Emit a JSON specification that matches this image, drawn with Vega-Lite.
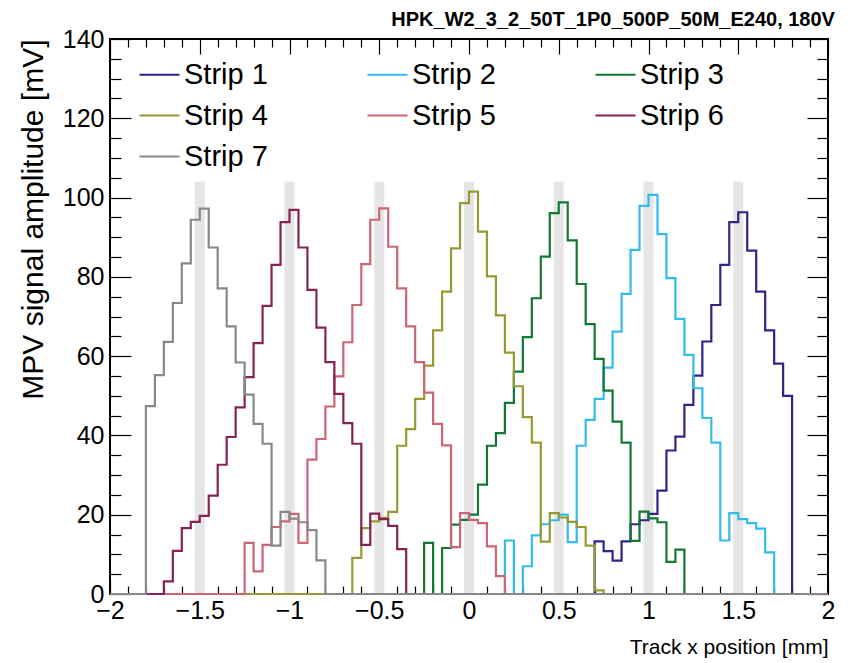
{
  "$schema": "https://vega.github.io/schema/vega-lite/v6.json",
  "width": 718,
  "height": 555,
  "autosize": {"type": "none"},
  "padding": {"left": 110, "top": 39, "right": 23, "bottom": 69},
  "background": "white",
  "config": {
    "view": {"stroke": "black", "strokeWidth": 2},
    "font": "Liberation Sans",
    "axis": {"domain": false, "grid": false, "tickColor": "black", "labelColor": "black", "titleColor": "black", "tickWidth": 1.2, "titleFontWeight": "normal", "labelFont": "Liberation Sans", "titleFont": "Liberation Sans"}
  },
  "title": {"text": "HPK_W2_3_2_50T_1P0_500P_50M_E240, 180V", "anchor": "end", "font": "Liberation Sans", "fontWeight": "bold", "fontSize": 20, "offset": -3, "color": "black"},
  "datasets": {
    "bands": [
      {"c": -1.5, "lo": -1.528, "hi": -1.472, "y0": 0, "y1": 104},
      {"c": -1.0, "lo": -1.028, "hi": -0.972, "y0": 0, "y1": 104},
      {"c": -0.5, "lo": -0.528, "hi": -0.472, "y0": 0, "y1": 104},
      {"c": 0.0, "lo": -0.028, "hi": 0.028, "y0": 0, "y1": 104},
      {"c": 0.5, "lo": 0.472, "hi": 0.528, "y0": 0, "y1": 104},
      {"c": 1.0, "lo": 0.972, "hi": 1.028, "y0": 0, "y1": 104},
      {"c": 1.5, "lo": 1.472, "hi": 1.528, "y0": 0, "y1": 104}
    ],
    "hist": [
      {"s": "Strip 1", "x": -2, "v": 0},
      {"s": "Strip 1", "x": 0.7, "v": 13.3},
      {"s": "Strip 1", "x": 0.75, "v": 10.8},
      {"s": "Strip 1", "x": 0.8, "v": 8.4},
      {"s": "Strip 1", "x": 0.85, "v": 13.3},
      {"s": "Strip 1", "x": 0.9, "v": 17.6},
      {"s": "Strip 1", "x": 0.95, "v": 18.6},
      {"s": "Strip 1", "x": 1.0, "v": 20.2},
      {"s": "Strip 1", "x": 1.05, "v": 26.1},
      {"s": "Strip 1", "x": 1.1, "v": 36.2},
      {"s": "Strip 1", "x": 1.15, "v": 39.7},
      {"s": "Strip 1", "x": 1.2, "v": 47.7},
      {"s": "Strip 1", "x": 1.25, "v": 55.1},
      {"s": "Strip 1", "x": 1.3, "v": 63.7},
      {"s": "Strip 1", "x": 1.35, "v": 72.9},
      {"s": "Strip 1", "x": 1.4, "v": 83.0},
      {"s": "Strip 1", "x": 1.45, "v": 93.8},
      {"s": "Strip 1", "x": 1.5, "v": 96.3},
      {"s": "Strip 1", "x": 1.55, "v": 86.6},
      {"s": "Strip 1", "x": 1.6, "v": 76.3},
      {"s": "Strip 1", "x": 1.65, "v": 66.5},
      {"s": "Strip 1", "x": 1.7, "v": 58.1},
      {"s": "Strip 1", "x": 1.75, "v": 50.0},
      {"s": "Strip 1", "x": 1.8, "v": 0},
      {"s": "Strip 1", "x": 2, "v": 0},

      {"s": "Strip 2", "x": -2, "v": 0},
      {"s": "Strip 2", "x": 0.2, "v": 13.5},
      {"s": "Strip 2", "x": 0.25, "v": 0},
      {"s": "Strip 2", "x": 0.3, "v": 7.0},
      {"s": "Strip 2", "x": 0.35, "v": 14.8},
      {"s": "Strip 2", "x": 0.4, "v": 17.6},
      {"s": "Strip 2", "x": 0.45, "v": 18.6},
      {"s": "Strip 2", "x": 0.5, "v": 20.0},
      {"s": "Strip 2", "x": 0.55, "v": 13.1},
      {"s": "Strip 2", "x": 0.6, "v": 37.4},
      {"s": "Strip 2", "x": 0.65, "v": 43.9},
      {"s": "Strip 2", "x": 0.7, "v": 49.2},
      {"s": "Strip 2", "x": 0.75, "v": 57.1},
      {"s": "Strip 2", "x": 0.8, "v": 66.2},
      {"s": "Strip 2", "x": 0.85, "v": 75.7},
      {"s": "Strip 2", "x": 0.9, "v": 86.8},
      {"s": "Strip 2", "x": 0.95, "v": 97.9},
      {"s": "Strip 2", "x": 1.0, "v": 100.7},
      {"s": "Strip 2", "x": 1.05, "v": 90.8},
      {"s": "Strip 2", "x": 1.1, "v": 79.7},
      {"s": "Strip 2", "x": 1.15, "v": 69.4},
      {"s": "Strip 2", "x": 1.2, "v": 60.3},
      {"s": "Strip 2", "x": 1.25, "v": 51.9},
      {"s": "Strip 2", "x": 1.3, "v": 44.4},
      {"s": "Strip 2", "x": 1.35, "v": 38.2},
      {"s": "Strip 2", "x": 1.4, "v": 13.5},
      {"s": "Strip 2", "x": 1.45, "v": 20.4},
      {"s": "Strip 2", "x": 1.5, "v": 18.9},
      {"s": "Strip 2", "x": 1.55, "v": 17.9},
      {"s": "Strip 2", "x": 1.6, "v": 16.5},
      {"s": "Strip 2", "x": 1.65, "v": 10.5},
      {"s": "Strip 2", "x": 1.7, "v": 0},
      {"s": "Strip 2", "x": 2, "v": 0},

      {"s": "Strip 3", "x": -2, "v": 0},
      {"s": "Strip 3", "x": -0.25, "v": 12.9},
      {"s": "Strip 3", "x": -0.2, "v": 0},
      {"s": "Strip 3", "x": -0.15, "v": 11.6},
      {"s": "Strip 3", "x": -0.1, "v": 17.5},
      {"s": "Strip 3", "x": -0.05, "v": 18.7},
      {"s": "Strip 3", "x": 0.0, "v": 20.0},
      {"s": "Strip 3", "x": 0.05, "v": 27.6},
      {"s": "Strip 3", "x": 0.1, "v": 37.4},
      {"s": "Strip 3", "x": 0.15, "v": 40.6},
      {"s": "Strip 3", "x": 0.2, "v": 48.2},
      {"s": "Strip 3", "x": 0.25, "v": 56.1},
      {"s": "Strip 3", "x": 0.3, "v": 64.8},
      {"s": "Strip 3", "x": 0.35, "v": 74.6},
      {"s": "Strip 3", "x": 0.4, "v": 85.1},
      {"s": "Strip 3", "x": 0.45, "v": 96.1},
      {"s": "Strip 3", "x": 0.5, "v": 98.8},
      {"s": "Strip 3", "x": 0.55, "v": 89.2},
      {"s": "Strip 3", "x": 0.6, "v": 78.2},
      {"s": "Strip 3", "x": 0.65, "v": 68.1},
      {"s": "Strip 3", "x": 0.7, "v": 59.3},
      {"s": "Strip 3", "x": 0.75, "v": 51.3},
      {"s": "Strip 3", "x": 0.8, "v": 43.5},
      {"s": "Strip 3", "x": 0.85, "v": 38.2},
      {"s": "Strip 3", "x": 0.9, "v": 13.4},
      {"s": "Strip 3", "x": 0.95, "v": 20.8},
      {"s": "Strip 3", "x": 1.0, "v": 19.1},
      {"s": "Strip 3", "x": 1.05, "v": 18.1},
      {"s": "Strip 3", "x": 1.1, "v": 8.1},
      {"s": "Strip 3", "x": 1.15, "v": 11.2},
      {"s": "Strip 3", "x": 1.2, "v": 0},
      {"s": "Strip 3", "x": 2, "v": 0},

      {"s": "Strip 4", "x": -2, "v": 0},
      {"s": "Strip 4", "x": -0.65, "v": 9.1},
      {"s": "Strip 4", "x": -0.6, "v": 16.6},
      {"s": "Strip 4", "x": -0.55, "v": 18.3},
      {"s": "Strip 4", "x": -0.5, "v": 19.2},
      {"s": "Strip 4", "x": -0.45, "v": 20.7},
      {"s": "Strip 4", "x": -0.4, "v": 37.4},
      {"s": "Strip 4", "x": -0.35, "v": 41.6},
      {"s": "Strip 4", "x": -0.3, "v": 49.2},
      {"s": "Strip 4", "x": -0.25, "v": 57.6},
      {"s": "Strip 4", "x": -0.2, "v": 66.5},
      {"s": "Strip 4", "x": -0.15, "v": 76.3},
      {"s": "Strip 4", "x": -0.1, "v": 87.2},
      {"s": "Strip 4", "x": -0.05, "v": 98.6},
      {"s": "Strip 4", "x": 0.0, "v": 101.5},
      {"s": "Strip 4", "x": 0.05, "v": 91.4},
      {"s": "Strip 4", "x": 0.1, "v": 80.1},
      {"s": "Strip 4", "x": 0.15, "v": 70.3},
      {"s": "Strip 4", "x": 0.2, "v": 60.9},
      {"s": "Strip 4", "x": 0.25, "v": 52.4},
      {"s": "Strip 4", "x": 0.3, "v": 44.6},
      {"s": "Strip 4", "x": 0.35, "v": 38.2},
      {"s": "Strip 4", "x": 0.4, "v": 13.2},
      {"s": "Strip 4", "x": 0.45, "v": 20.4},
      {"s": "Strip 4", "x": 0.5, "v": 19.3},
      {"s": "Strip 4", "x": 0.55, "v": 18.2},
      {"s": "Strip 4", "x": 0.6, "v": 16.9},
      {"s": "Strip 4", "x": 0.65, "v": 12.2},
      {"s": "Strip 4", "x": 0.7, "v": 0.9},
      {"s": "Strip 4", "x": 0.75, "v": 0},
      {"s": "Strip 4", "x": 2, "v": 0},

      {"s": "Strip 5", "x": -2, "v": 0},
      {"s": "Strip 5", "x": -1.25, "v": 12.9},
      {"s": "Strip 5", "x": -1.2, "v": 5.7},
      {"s": "Strip 5", "x": -1.15, "v": 12.4},
      {"s": "Strip 5", "x": -1.1, "v": 16.9},
      {"s": "Strip 5", "x": -1.05, "v": 18.3},
      {"s": "Strip 5", "x": -1.0, "v": 20.2},
      {"s": "Strip 5", "x": -0.95, "v": 12.9},
      {"s": "Strip 5", "x": -0.9, "v": 33.9},
      {"s": "Strip 5", "x": -0.85, "v": 39.1},
      {"s": "Strip 5", "x": -0.8, "v": 47.3},
      {"s": "Strip 5", "x": -0.75, "v": 54.9},
      {"s": "Strip 5", "x": -0.7, "v": 63.5},
      {"s": "Strip 5", "x": -0.65, "v": 72.9},
      {"s": "Strip 5", "x": -0.6, "v": 83.2},
      {"s": "Strip 5", "x": -0.55, "v": 94.4},
      {"s": "Strip 5", "x": -0.5, "v": 97.3},
      {"s": "Strip 5", "x": -0.45, "v": 87.6},
      {"s": "Strip 5", "x": -0.4, "v": 77.1},
      {"s": "Strip 5", "x": -0.35, "v": 67.5},
      {"s": "Strip 5", "x": -0.3, "v": 58.5},
      {"s": "Strip 5", "x": -0.25, "v": 50.8},
      {"s": "Strip 5", "x": -0.2, "v": 42.9},
      {"s": "Strip 5", "x": -0.15, "v": 37.5},
      {"s": "Strip 5", "x": -0.1, "v": 11.8},
      {"s": "Strip 5", "x": -0.05, "v": 20.4},
      {"s": "Strip 5", "x": 0.0, "v": 18.7},
      {"s": "Strip 5", "x": 0.05, "v": 17.9},
      {"s": "Strip 5", "x": 0.1, "v": 12.0},
      {"s": "Strip 5", "x": 0.15, "v": 4.5},
      {"s": "Strip 5", "x": 0.2, "v": 0},
      {"s": "Strip 5", "x": 2, "v": 0},

      {"s": "Strip 6", "x": -2, "v": 0},
      {"s": "Strip 6", "x": -1.7, "v": 3.2},
      {"s": "Strip 6", "x": -1.65, "v": 10.9},
      {"s": "Strip 6", "x": -1.6, "v": 16.6},
      {"s": "Strip 6", "x": -1.55, "v": 18.2},
      {"s": "Strip 6", "x": -1.5, "v": 19.7},
      {"s": "Strip 6", "x": -1.45, "v": 24.8},
      {"s": "Strip 6", "x": -1.4, "v": 32.6},
      {"s": "Strip 6", "x": -1.35, "v": 39.6},
      {"s": "Strip 6", "x": -1.3, "v": 47.1},
      {"s": "Strip 6", "x": -1.25, "v": 54.7},
      {"s": "Strip 6", "x": -1.2, "v": 63.3},
      {"s": "Strip 6", "x": -1.15, "v": 72.7},
      {"s": "Strip 6", "x": -1.1, "v": 83.0},
      {"s": "Strip 6", "x": -1.05, "v": 93.8},
      {"s": "Strip 6", "x": -1.0, "v": 96.9},
      {"s": "Strip 6", "x": -0.95, "v": 87.4},
      {"s": "Strip 6", "x": -0.9, "v": 76.7},
      {"s": "Strip 6", "x": -0.85, "v": 67.2},
      {"s": "Strip 6", "x": -0.8, "v": 58.5},
      {"s": "Strip 6", "x": -0.75, "v": 50.5},
      {"s": "Strip 6", "x": -0.7, "v": 43.1},
      {"s": "Strip 6", "x": -0.65, "v": 37.9},
      {"s": "Strip 6", "x": -0.6, "v": 12.4},
      {"s": "Strip 6", "x": -0.55, "v": 20.3},
      {"s": "Strip 6", "x": -0.5, "v": 18.9},
      {"s": "Strip 6", "x": -0.45, "v": 17.2},
      {"s": "Strip 6", "x": -0.4, "v": 11.3},
      {"s": "Strip 6", "x": -0.35, "v": 0},
      {"s": "Strip 6", "x": 2, "v": 0},

      {"s": "Strip 7", "x": -2, "v": 0},
      {"s": "Strip 7", "x": -1.8, "v": 47.4},
      {"s": "Strip 7", "x": -1.75, "v": 55.2},
      {"s": "Strip 7", "x": -1.7, "v": 63.6},
      {"s": "Strip 7", "x": -1.65, "v": 73.4},
      {"s": "Strip 7", "x": -1.6, "v": 83.4},
      {"s": "Strip 7", "x": -1.55, "v": 94.4},
      {"s": "Strip 7", "x": -1.5, "v": 97.2},
      {"s": "Strip 7", "x": -1.45, "v": 87.4},
      {"s": "Strip 7", "x": -1.4, "v": 77.1},
      {"s": "Strip 7", "x": -1.35, "v": 67.5},
      {"s": "Strip 7", "x": -1.3, "v": 58.4},
      {"s": "Strip 7", "x": -1.25, "v": 50.3},
      {"s": "Strip 7", "x": -1.2, "v": 42.9},
      {"s": "Strip 7", "x": -1.15, "v": 37.9},
      {"s": "Strip 7", "x": -1.1, "v": 12.2},
      {"s": "Strip 7", "x": -1.05, "v": 20.7},
      {"s": "Strip 7", "x": -1.0, "v": 19.0},
      {"s": "Strip 7", "x": -0.95, "v": 18.1},
      {"s": "Strip 7", "x": -0.9, "v": 16.1},
      {"s": "Strip 7", "x": -0.85, "v": 8.5},
      {"s": "Strip 7", "x": -0.8, "v": 0},
      {"s": "Strip 7", "x": 2, "v": 0}
    ]
  },
  "layer": [
    {
      "data": {"name": "bands"},
      "mark": {"type": "rect", "color": "#e5e5e5"},
      "encoding": {
        "x": {"field": "lo", "type": "quantitative", "scale": {"domain": [-2, 2], "nice": false, "zero": false},
          "axis": {"orient": "top", "labels": false, "title": null,
            "values": [-2,-1.9,-1.8,-1.7,-1.6,-1.5,-1.4,-1.3,-1.2,-1.1,-1,-0.9,-0.8,-0.7,-0.6,-0.5,-0.4,-0.3,-0.2,-0.1,0,0.1,0.2,0.3,0.4,0.5,0.6,0.7,0.8,0.9,1,1.1,1.2,1.3,1.4,1.5,1.6,1.7,1.8,1.9,2],
            "tickSize": {"condition": {"test": "abs(datum.value*2 - round(datum.value*2)) < 0.001", "value": -15}, "value": -8}}},
        "x2": {"field": "hi"},
        "y": {"field": "y0", "type": "quantitative", "scale": {"domain": [0, 140], "nice": false},
          "axis": {"orient": "right", "labels": false, "title": null,
            "values": [0,5,10,15,20,25,30,35,40,45,50,55,60,65,70,75,80,85,90,95,100,105,110,115,120,125,130,135,140],
            "tickSize": {"condition": {"test": "datum.value % 20 === 0", "value": -21}, "value": -11}}},
        "y2": {"field": "y1"}
      }
    },
    {
      "data": {"name": "hist"},
      "mark": {"type": "line", "interpolate": "step-after", "strokeWidth": 2.2},
      "encoding": {
        "x": {"field": "x", "type": "quantitative", "scale": {"domain": [-2, 2], "nice": false, "zero": false},
          "axis": {"orient": "bottom", "title": "Track x position [mm]",
            "values": [-2,-1.9,-1.8,-1.7,-1.6,-1.5,-1.4,-1.3,-1.2,-1.1,-1,-0.9,-0.8,-0.7,-0.6,-0.5,-0.4,-0.3,-0.2,-0.1,0,0.1,0.2,0.3,0.4,0.5,0.6,0.7,0.8,0.9,1,1.1,1.2,1.3,1.4,1.5,1.6,1.7,1.8,1.9,2],
            "labelExpr": "abs(datum.value*2 - round(datum.value*2)) < 0.001 ? datum.label : ''",
            "format": "~g",
            "tickSize": {"condition": {"test": "abs(datum.value*2 - round(datum.value*2)) < 0.001", "value": -15}, "value": -8},
            "labelFontSize": 25, "labelPadding": 19, "labelFlush": false, "labelOverlap": false,
            "titleFontSize": 21, "titleAnchor": "end", "titlePadding": 6}},
        "y": {"field": "v", "type": "quantitative", "scale": {"domain": [0, 140], "nice": false},
          "axis": {"orient": "left", "title": "MPV signal amplitude [mV]",
            "values": [0,5,10,15,20,25,30,35,40,45,50,55,60,65,70,75,80,85,90,95,100,105,110,115,120,125,130,135,140],
            "labelExpr": "datum.value % 20 === 0 ? datum.label : ''",
            "tickSize": {"condition": {"test": "datum.value % 20 === 0", "value": -21}, "value": -11},
            "labelFontSize": 25, "labelPadding": 27, "labelFlush": false, "labelOverlap": false,
            "titleFontSize": 30, "titleAnchor": "end", "titlePadding": 14}},
        "color": {"field": "s", "type": "nominal",
          "scale": {"domain": ["Strip 1","Strip 2","Strip 3","Strip 4","Strip 5","Strip 6","Strip 7"],
            "range": ["#332288","#33BBEE","#117733","#999933","#CC6677","#882255","#888888"]},
          "legend": {"orient": "none", "legendX": 28, "legendY": 14, "columns": 3, "direction": "horizontal", "title": null,
            "symbolType": "stroke", "symbolSize": 1600, "symbolStrokeWidth": 2.2,
            "labelFontSize": 29, "labelOffset": 3, "columnPadding": 95, "rowPadding": 4, "labelColor": "black"}}
      }
    }
  ],
  "resolve": {"axis": {"x": "independent", "y": "independent"}}
}
